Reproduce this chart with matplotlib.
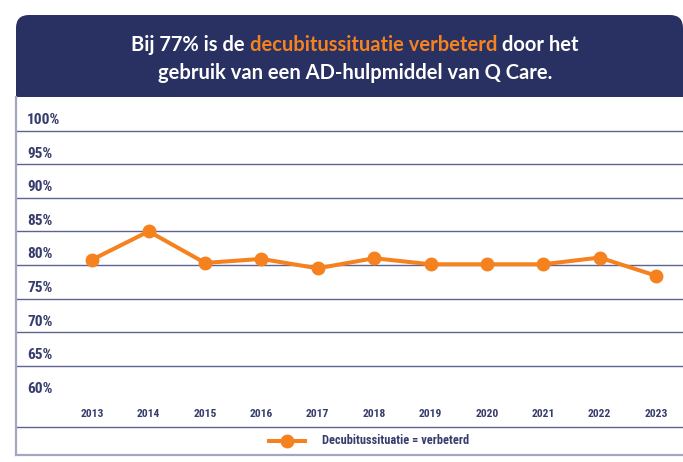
import matplotlib
matplotlib.use('Agg')
import matplotlib.pyplot as plt
from matplotlib import font_manager
from matplotlib.path import Path
from matplotlib.patches import PathPatch
from matplotlib.lines import Line2D
import matplotlib.transforms as mtrans

# ---------------- data ----------------
years = ['2013', '2014', '2015', '2016', '2017', '2018', '2019', '2020', '2021', '2022', '2023']
values = [80.8, 85.0, 80.3, 80.9, 79.5, 81.0, 80.1, 80.1, 80.1, 81.1, 78.4]
y_ticks = [100, 95, 90, 85, 80, 75, 70, 65, 60]
y_tick_labels = ['100%', '95%', '90%', '85%', '80%', '75%', '70%', '65%', '60%']
series_name = 'Decubitussituatie = verbeterd'
title_line_1 = [('Bij 77% is de ', 'white'), ('decubitussituatie verbeterd', 'accent'), (' door het', 'white')]
title_line_2 = 'gebruik van een AD-hulpmiddel van Q Care.'

# ---------------- style ----------------
NAVY = '#283162'
ORANGE = '#f5821f'
LABEL = '#363d6c'
GRID = '#5c6390'
BORDER = '#a4a7c4'

names = {f.name for f in font_manager.fontManager.ttflist}
def pick(cands, default='DejaVu Sans'):
    for c in cands:
        if c in names:
            return c
    return default

TITLE_FONT = pick(['Lato', 'Open Sans', 'Noto Sans'])
NARROW_FONT = pick(['Liberation Sans Narrow', 'Roboto Condensed', 'DejaVu Sans Condensed', 'Roboto', 'Lato'])

W, H = 683, 462
fig = plt.figure(figsize=(W / 100, H / 100), dpi=100)
fig.patch.set_facecolor('white')
px = mtrans.Affine2D().scale(1 / W, 1 / H) + fig.transFigure
def Y(y):
    return H - y

renderer = fig.canvas.get_renderer()

def fit_size(text, family, weight, target_w, base=12.0):
    t = fig.text(0, 0, text, fontsize=base, family=family, weight=weight)
    w = t.get_window_extent(renderer).width
    t.remove()
    return base * target_w / w

# ---------------- axes ----------------
top_px, bot_px = 97, 427
ax = fig.add_axes([16 / W, (H - bot_px) / H, (W - 16) / W, (bot_px - top_px) / H])
ax.set_facecolor('none')
ppu = (366.0 - 130.7) / 35.0           # pixels per percent
x_step = (656.0 - 92.3) / 10.0
ax.set_xlim(-(92.3 - 16) / x_step, 10 + (683 - 656.0) / x_step)
ax.set_ylim(60 - (bot_px - 399.2) / ppu, 100 + (130.7 - top_px) / ppu)
for s in ax.spines.values():
    s.set_visible(False)
ax.set_xticks([])
ax.set_yticks([])

for v in y_ticks:
    if v > 60:
        ax.axhline(v, color=GRID, lw=1.0, zorder=1)

ax.plot(range(len(years)), values, color=ORANGE, lw=2.9, marker='o', ms=9,
        solid_capstyle='round', zorder=3, clip_on=False)

# y labels (above gridlines)
ysize = fit_size('100%', NARROW_FONT, 'bold', 33)
ytrans = mtrans.blended_transform_factory(px, ax.transData) + \
    mtrans.ScaledTranslation(0, 10.5 / 100, fig.dpi_scale_trans)
for v, lab in zip(y_ticks, y_tick_labels):
    ax.text(27, v, lab, transform=ytrans, ha='left', va='center', fontsize=ysize,
            family=NARROW_FONT, weight='bold', color=LABEL)

# x labels
xsize = fit_size('2013', NARROW_FONT, 'bold', 23)
xtrans = mtrans.blended_transform_factory(ax.transData, px)
for i, yr in enumerate(years):
    ax.text(i, Y(414), yr, transform=xtrans, ha='center', va='center', fontsize=xsize,
            family=NARROW_FONT, weight='bold', color=LABEL)

# separator line above legend, borders
fig.add_artist(Line2D([16, 683], [Y(427), Y(427)], transform=px, color=GRID, lw=1.0))
fig.add_artist(Line2D([16, 16], [Y(97), Y(455)], transform=px, color=BORDER, lw=1.6))
fig.add_artist(Line2D([16, 683], [Y(455), Y(455)], transform=px, color=BORDER, lw=1.6))

# legend
fig.add_artist(Line2D([269, 305], [Y(441), Y(441)], transform=px, color=ORANGE, lw=2.9))
fig.add_artist(Line2D([287], [Y(441)], transform=px, color=ORANGE, marker='o', ms=9, lw=0))
lsize = fit_size(series_name, NARROW_FONT, 'bold', 147)
fig.text(322, Y(441), series_name, transform=px, ha='left', va='center', fontsize=lsize,
         family=NARROW_FONT, weight='bold', color=LABEL)

# ---------------- banner ----------------
r = 13
x0, x1, y0, y1 = 16, 683, 15, 97
verts = [(x0, Y(y1)), (x0, Y(y0 + r)), (x0, Y(y0)), (x0 + r, Y(y0)),
         (x1 - r, Y(y0)), (x1, Y(y0)), (x1, Y(y0 + r)), (x1, Y(y1)), (x0, Y(y1))]
codes = [Path.MOVETO, Path.LINETO, Path.CURVE3, Path.CURVE3,
         Path.LINETO, Path.CURVE3, Path.CURVE3, Path.LINETO, Path.CLOSEPOLY]
fig.add_artist(PathPatch(Path(verts, codes), transform=px, facecolor=NAVY, edgecolor='none', zorder=0))

# title
full1 = ''.join(p for p, _ in title_line_1)
tsize = fit_size(full1, TITLE_FONT, 'bold', 446)
widths = []
for part, _ in title_line_1:
    t = fig.text(0, 0, part.replace(' ', '\u00a0'), fontsize=tsize, family=TITLE_FONT, weight='bold')
    widths.append(t.get_window_extent(renderer).width)
    t.remove()
total = sum(widths)
xcur = 355 - total / 2
for (part, col), w in zip(title_line_1, widths):
    fig.text(xcur, Y(45), part.replace(' ', '\u00a0'), transform=px, ha='left', va='center',
             fontsize=tsize, family=TITLE_FONT, weight='bold',
             color=ORANGE if col == 'accent' else 'white', zorder=5)
    xcur += w
fig.text(355, Y(73), title_line_2, transform=px, ha='center', va='center', fontsize=tsize,
         family=TITLE_FONT, weight='bold', color='white', zorder=5)

fig.savefig('out.png', dpi=100, facecolor='white')
